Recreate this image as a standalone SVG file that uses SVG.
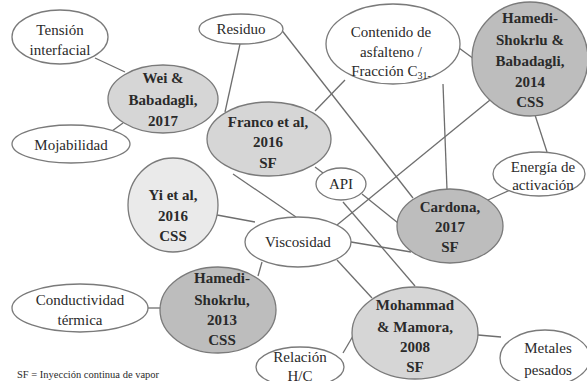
<svg xmlns="http://www.w3.org/2000/svg" width="587" height="381" viewBox="0 0 587 381">
<style>
.e{stroke:#7a7a7a;stroke-width:1.3;fill:#ffffff}
.l{fill:#d6d6d6}
.x{fill:#eaeaea}
.d{fill:#bdbdbd}
text{font-size:15px;fill:#2a2a2a;text-anchor:middle}
.b{font-weight:bold}
#connectors line{stroke:#6e6e6e;stroke-width:1.3}
</style>
<rect width="587" height="381" fill="#ffffff"/>
<g id="connectors">
<line x1="95" y1="58" x2="125" y2="72"/>
<line x1="112" y1="131" x2="123" y2="123"/>
<line x1="240" y1="44" x2="225" y2="112"/>
<line x1="280" y1="28" x2="413" y2="198"/>
<line x1="345" y1="80" x2="315" y2="111"/>
<line x1="443" y1="84" x2="447" y2="190"/>
<line x1="459" y1="48" x2="474" y2="59"/>
<line x1="535" y1="115" x2="547" y2="152"/>
<line x1="490" y1="100" x2="337" y2="225"/>
<line x1="488" y1="200" x2="510" y2="190"/>
<line x1="315" y1="167" x2="323" y2="173"/>
<line x1="362" y1="194" x2="398" y2="223"/>
<line x1="343" y1="202" x2="415" y2="286"/>
<line x1="233" y1="174" x2="296" y2="217"/>
<line x1="217" y1="215" x2="255" y2="222"/>
<line x1="351" y1="242" x2="411" y2="252"/>
<line x1="262" y1="262" x2="258" y2="276"/>
<line x1="337" y1="260" x2="372" y2="298"/>
<line x1="147" y1="308" x2="161" y2="308"/>
<line x1="343" y1="353" x2="353" y2="336"/>
<line x1="478" y1="335" x2="501" y2="337"/>
</g>
<g font-family="'Liberation Serif', 'DejaVu Serif', 'Times New Roman', serif">
<g id="tension"><ellipse class="e" cx="60" cy="37" rx="48" ry="27"/><text x="60" y="35">Tensión</text><text x="60" y="55">interfacial</text></g>
<g id="residuo"><ellipse class="e" cx="241" cy="29" rx="42" ry="15"/><text x="241" y="34">Residuo</text></g>
<g id="wei"><ellipse class="e l" cx="163" cy="99" rx="55" ry="34"/><text class="b" x="163" y="83">Wei &amp;</text><text class="b" x="163" y="105">Babadagli,</text><text class="b" x="163" y="126">2017</text></g>
<g id="mojabilidad"><ellipse class="e" cx="71" cy="144" rx="59" ry="19"/><text x="71" y="150">Mojabilidad</text></g>
<g id="franco"><ellipse class="e l" cx="269" cy="139" rx="62" ry="37"/><text class="b" x="268" y="127">Franco et al,</text><text class="b" x="268" y="147">2016</text><text class="b" x="268" y="168">SF</text></g>
<g id="contenido"><ellipse class="e" cx="393" cy="44" rx="67" ry="40"/><text x="391" y="37">Contenido de</text><text x="391" y="57">asfalteno /</text><text x="391" y="76">Fracción C<tspan font-size="10" dy="3">31-</tspan></text></g>
<g id="hamedi2014"><ellipse class="e d" cx="530" cy="59" rx="58" ry="57"/><text class="b" x="530" y="23">Hamedi-</text><text class="b" x="530" y="45">Shokrlu &amp;</text><text class="b" x="530" y="66">Babadagli,</text><text class="b" x="530" y="87">2014</text><text class="b" x="530" y="107">CSS</text></g>
<g id="energia"><ellipse class="e" cx="539" cy="174" rx="46" ry="22"/><text x="543" y="172">Energía de</text><text x="543" y="190">activación</text></g>
<g id="api"><ellipse class="e" cx="341" cy="184" rx="25" ry="16"/><text x="341" y="189">API</text></g>
<g id="cardona"><ellipse class="e d" cx="450" cy="226" rx="53" ry="37"/><text class="b" x="450" y="212">Cardona,</text><text class="b" x="450" y="232">2017</text><text class="b" x="450" y="252">SF</text></g>
<g id="yi"><ellipse class="e x" cx="173" cy="205" rx="45" ry="47"/><text class="b" x="173" y="200">Yi et al,</text><text class="b" x="173" y="221">2016</text><text class="b" x="173" y="241">CSS</text></g>
<g id="viscosidad"><ellipse class="e" cx="298" cy="242" rx="53" ry="25"/><text x="298" y="247">Viscosidad</text></g>
<g id="hamedi2013"><ellipse class="e d" cx="218" cy="310" rx="58" ry="43"/><text class="b" x="222" y="283">Hamedi-</text><text class="b" x="222" y="305">Shokrlu,</text><text class="b" x="222" y="325">2013</text><text class="b" x="222" y="345">CSS</text></g>
<g id="conductividad"><ellipse class="e" cx="80" cy="308" rx="68" ry="24"/><text x="80" y="305">Conductividad</text><text x="80" y="325">térmica</text></g>
<g id="mohammad"><ellipse class="e l" cx="415" cy="333" rx="63" ry="46"/><text class="b" x="415" y="310">Mohammad</text><text class="b" x="415" y="332">&amp; Mamora,</text><text class="b" x="415" y="352">2008</text><text class="b" x="415" y="372">SF</text></g>
<g id="relacion"><ellipse class="e" cx="300" cy="367" rx="44" ry="20"/><text x="300" y="362">Relación</text><text x="300" y="381">H/C</text></g>
<g id="metales"><ellipse class="e" cx="545" cy="358" rx="45" ry="28"/><text x="548" y="353">Metales</text><text x="548" y="375">pesados</text></g>
<text x="17" y="378" style="font-size:10.5px;text-anchor:start">SF = Inyección continua de vapor</text>
</g>
</svg>
